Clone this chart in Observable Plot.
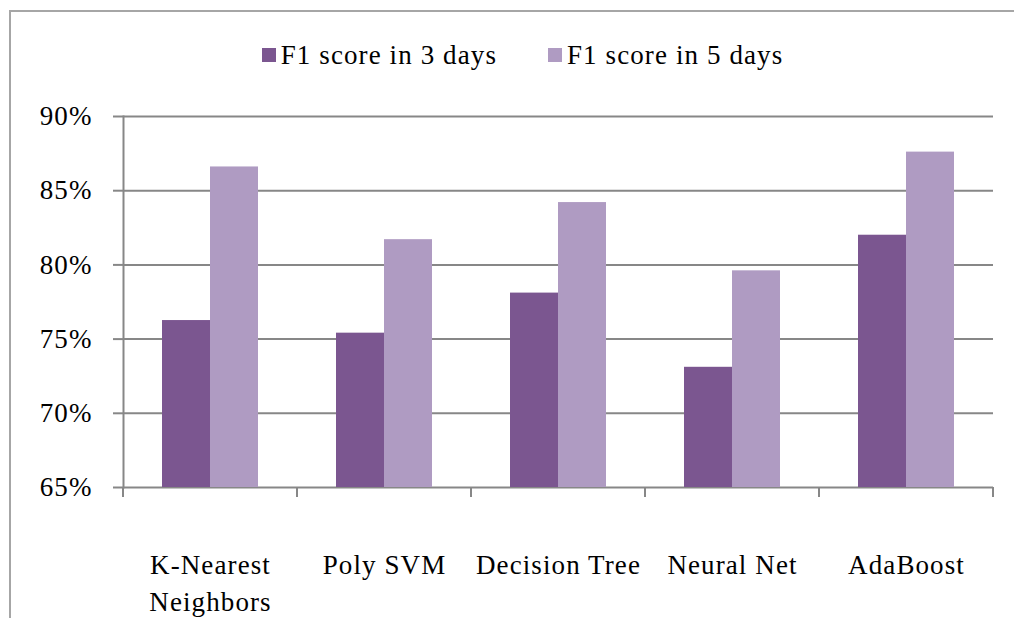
<!DOCTYPE html>
<html><head><meta charset="utf-8">
<script src="https://cdn.jsdelivr.net/npm/d3@7"></script>
<script src="https://cdn.jsdelivr.net/npm/@observablehq/plot@0.6"></script>
<style>
html,body{margin:0;padding:0;background:#fff;width:1014px;height:618px;overflow:hidden;position:relative}
#frame{position:absolute;left:9px;top:10px;width:1100px;height:700px;border:2px solid #a6a6a6;box-sizing:border-box}
#legend{position:absolute;left:0;top:35px;width:1014px;height:40px;display:flex;justify-content:center;align-items:center;gap:51px;padding-left:31px;box-sizing:border-box;font:27px "Liberation Serif",serif;color:#000;letter-spacing:1.1px}
.item{display:flex;align-items:center;gap:5px}
.sw{width:14px;height:14px}
#chart{position:absolute;left:0;top:80px}
#chart svg text{fill:#000}
</style></head>
<body>
<div id="frame"></div>
<div id="legend"></div>
<div id="chart"></div>
<script>
const categories = ["K-Nearest\nNeighbors", "Poly SVM", "Decision Tree", "Neural Net", "AdaBoost"];
const series = ["F1 score in 3 days", "F1 score in 5 days"];
const f1In3Days = [0.7625, 0.754, 0.781, 0.731, 0.820];
const f1In5Days = [0.866, 0.817, 0.842, 0.796, 0.876];
const colors = ["#7B5690", "#AF9BC2"];
const yMin = 0.65, yMax = 0.90;
const yTicks = [0.65, 0.70, 0.75, 0.80, 0.85, 0.90];

const data = categories.flatMap((c, i) => [
  {category: c, series: series[0], value: f1In3Days[i]},
  {category: c, series: series[1], value: f1In5Days[i]}
]);

const legend = document.getElementById("legend");
series.forEach((s, i) => {
  const item = document.createElement("div");
  item.className = "item";
  const sw = document.createElement("div");
  sw.className = "sw";
  sw.style.background = colors[i];
  const t = document.createElement("span");
  t.textContent = s;
  item.append(sw, t);
  legend.append(item);
});

const gray = "#878787";
const chart = Plot.plot({
  width: 1014, height: 538,
  marginTop: 36, marginBottom: 131, marginLeft: 123, marginRight: 21,
  style: {fontFamily: '"Liberation Serif", serif', fontSize: "27px", color: gray, background: "transparent", overflow: "visible", letterSpacing: "1.1px"},
  fx: {domain: categories, padding: 0, label: null},
  x: {domain: series, paddingInner: 0, paddingOuter: 0.78, axis: null},
  y: {domain: [yMin, yMax], label: null},
  color: {domain: series, range: colors},
  marks: [
    Plot.gridY(yTicks, {stroke: gray, strokeOpacity: 1, strokeWidth: 2}),
    Plot.barY(data, {fx: "category", x: "series", y1: yMin, y2: "value", fill: "series"}),
    Plot.axisY(yTicks, {tickFormat: d3.format(".0%"), tickSize: 10, tickPadding: 21, strokeWidth: 2, stroke: gray, label: null}),
    Plot.frame({anchor: "left", facetAnchor: "left", stroke: gray, strokeWidth: 2}),
    Plot.axisFx({anchor: "bottom", tickSize: 0, tickPadding: 60, lineHeight: 1.37, label: null}),
    (index, {x, y}) => {
      const g = d3.create("svg:g").attr("stroke", gray).attr("stroke-width", 2);
      const [x0, x1] = x.range();
      const yb = y(yMin);
      for (const xx of [x0, x1]) {
        g.append("line").attr("x1", xx).attr("x2", xx).attr("y1", yb).attr("y2", yb + 10);
      }
      return g.node();
    }
  ]
});
document.getElementById("chart").append(chart);
</script>
</body></html>
